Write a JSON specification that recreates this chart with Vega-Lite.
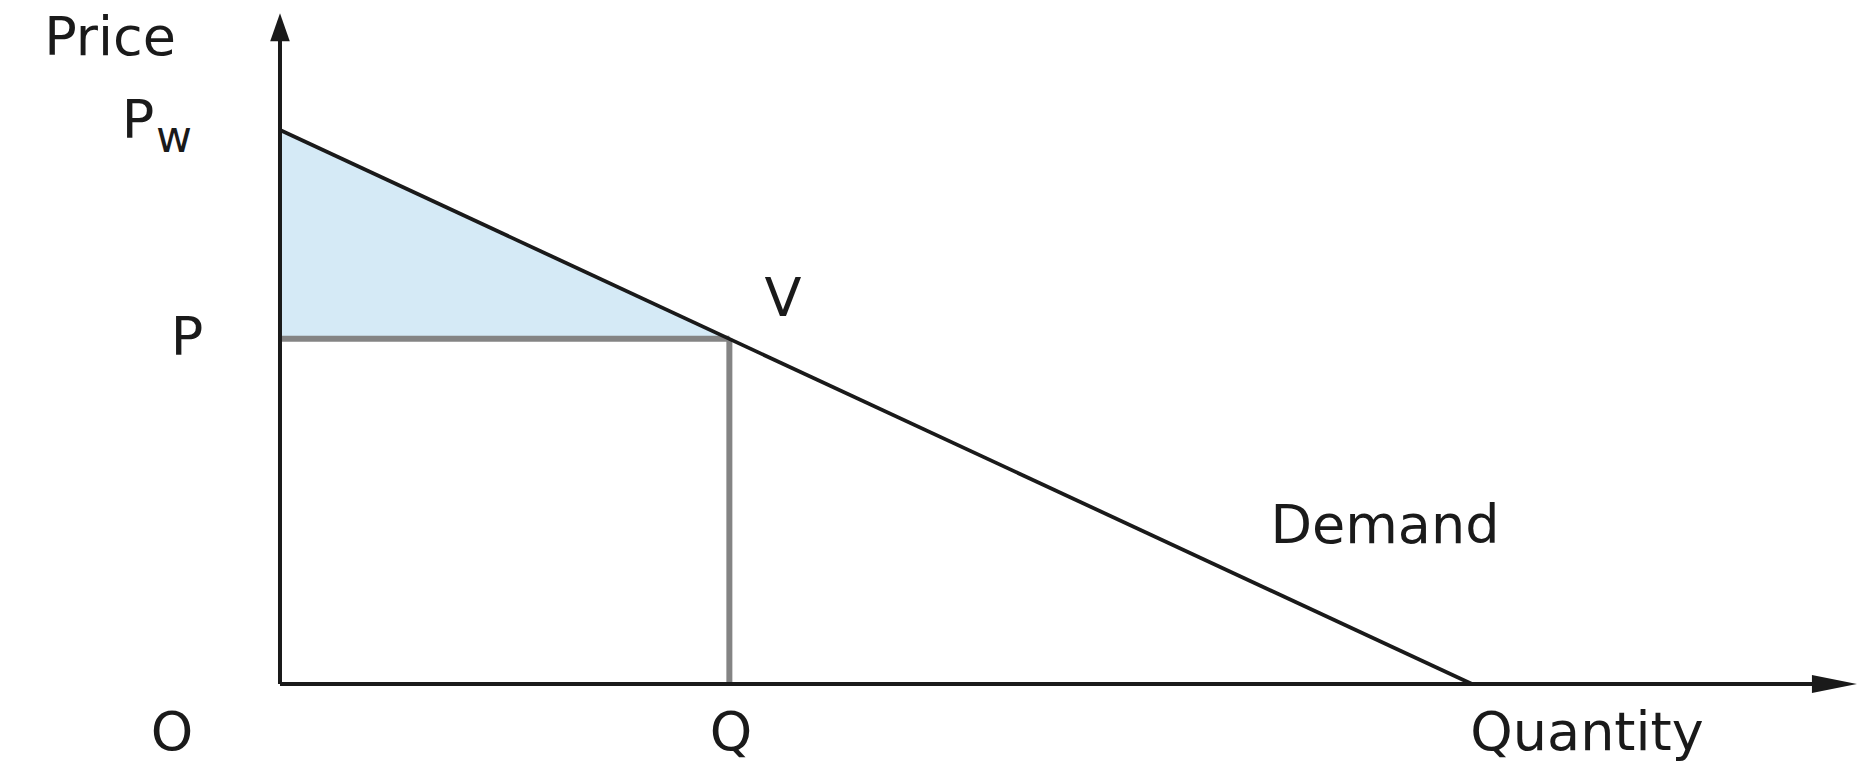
{
  "$schema": "https://vega.github.io/schema/vega-lite/v6.json",
  "width": 1864,
  "height": 766,
  "autosize": "none",
  "padding": 0,
  "background": "white",
  "config": {"view": {"stroke": null}},
  "datasets": {
    "shade": [{"q": 0, "p": 100, "base": 62.3}, {"q": 37.7, "p": 62.3, "base": 62.3}],
    "guides": [{"x": 0, "y": 62.3, "x2": 37.7, "y2": 62.3}, {"x": 37.7, "y": 0, "x2": 37.7, "y2": 62.3}],
    "demand": [{"x": 0, "y": 100, "x2": 100, "y2": 0}],
    "axes": [{"x": 0, "y": 0, "x2": 0, "y2": 118}, {"x": 0, "y": 0, "x2": 129.5, "y2": 0}],
    "yarrow": [{"x": 0, "y": 121.1}],
    "xarrow": [{"x": 132.3, "y": 0}],
    "labels": [
      {"label": "Price", "x": -14.26, "y": 116.5},
      {"label": "P", "x": -11.9, "y": 101.4},
      {"label": "P", "x": -7.8, "y": 62.3},
      {"label": "O", "x": -9.06, "y": -9.03},
      {"label": "Q", "x": 37.84, "y": -9.03},
      {"label": "Quantity", "x": 109.65, "y": -9.03},
      {"label": "Demand", "x": 92.7, "y": 28.34},
      {"label": "V", "x": 42.2, "y": 69.3}
    ],
    "sub": [{"label": "w", "x": -8.89, "y": 98.4}]
  },
  "layer": [
    {
      "data": {"name": "shade"},
      "mark": {"type": "area", "fill": "#d5eaf6", "stroke": null},
      "encoding": {
        "x": {"field": "q", "type": "quantitative", "axis": null, "scale": {"domain": [-23.49, 132.89], "nice": false, "zero": false}},
        "y": {"field": "p", "type": "quantitative", "axis": null, "scale": {"domain": [-14.8, 123.47], "nice": false, "zero": false}},
        "y2": {"field": "base"}
      }
    },
    {
      "data": {"name": "guides"},
      "mark": {"type": "rule", "color": "#848484", "strokeWidth": 6},
      "encoding": {
        "x": {"field": "x", "type": "quantitative"},
        "y": {"field": "y", "type": "quantitative"},
        "x2": {"field": "x2"},
        "y2": {"field": "y2"}
      }
    },
    {
      "data": {"name": "demand"},
      "mark": {"type": "rule", "color": "#1a1a1a", "strokeWidth": 3.8},
      "encoding": {
        "x": {"field": "x", "type": "quantitative"},
        "y": {"field": "y", "type": "quantitative"},
        "x2": {"field": "x2"},
        "y2": {"field": "y2"}
      }
    },
    {
      "data": {"name": "axes"},
      "mark": {"type": "rule", "color": "#1a1a1a", "strokeWidth": 4},
      "encoding": {
        "x": {"field": "x", "type": "quantitative"},
        "y": {"field": "y", "type": "quantitative"},
        "x2": {"field": "x2"},
        "y2": {"field": "y2"}
      }
    },
    {
      "data": {"name": "yarrow"},
      "mark": {"type": "point", "shape": "M0,0L-0.7,2L0.7,2Z", "size": 784, "filled": true, "color": "#1a1a1a", "opacity": 1},
      "encoding": {
        "x": {"field": "x", "type": "quantitative"},
        "y": {"field": "y", "type": "quantitative"}
      }
    },
    {
      "data": {"name": "xarrow"},
      "mark": {"type": "point", "shape": "M0,0L-2,-0.4L-2,0.4Z", "size": 2025, "filled": true, "color": "#1a1a1a", "opacity": 1},
      "encoding": {
        "x": {"field": "x", "type": "quantitative"},
        "y": {"field": "y", "type": "quantitative"}
      }
    },
    {
      "data": {"name": "labels"},
      "mark": {"type": "text", "font": "DejaVu Sans", "fontSize": 54, "color": "#1a1a1a", "align": "center", "baseline": "middle"},
      "encoding": {
        "x": {"field": "x", "type": "quantitative"},
        "y": {"field": "y", "type": "quantitative"},
        "text": {"field": "label"}
      }
    },
    {
      "data": {"name": "sub"},
      "mark": {"type": "text", "font": "DejaVu Sans", "fontSize": 44, "color": "#1a1a1a", "align": "center", "baseline": "middle"},
      "encoding": {
        "x": {"field": "x", "type": "quantitative"},
        "y": {"field": "y", "type": "quantitative"},
        "text": {"field": "label"}
      }
    }
  ]
}
